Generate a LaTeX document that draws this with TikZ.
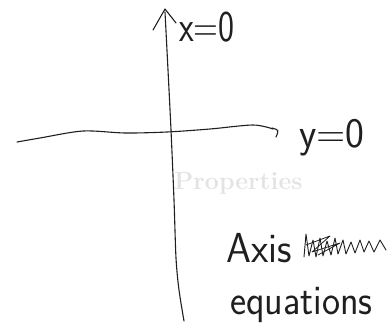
\documentclass[tikz,border=0pt]{standalone}
\usepackage{graphicx}
\begin{document}
\begin{tikzpicture}[x=1pt,y=-1pt,
  ink/.style={draw=black!88,line width=1.1pt,line cap=round,line join=round},
  hand/.style={inner sep=0pt,outer sep=0pt,text=black!88,font=\sffamily\fontsize{40}{40}\selectfont},
  ghost/.style={inner sep=0pt,text=black!11,font=\bfseries\fontsize{25}{25}\selectfont}]
\useasboundingbox (0,0) rectangle (388,325);
\clip (0,0) rectangle (388,325);
% faint bleed-through text
\node[ghost,anchor=base west] (ghost) at (174,189) {Properties};
% vertical axis (x=0)
\draw[ink] plot[smooth] coordinates {(165,12) (168,70) (171,130) (174,200) (176,258) (179,290) (184,321)};
\draw[ink] (153,30) -- (165,9) -- (176,23);
% horizontal axis (y=0)
\draw[ink] plot[smooth] coordinates {(17,142) (40,138) (83,131) (125,133) (167,132) (210,129) (253,125) (273,129)};
\draw[ink] (272,128) .. controls (279,130) .. (276,137);
% labels
\node[hand,anchor=base west] (xlab) at (179,41) {\scalebox{0.85}[1.1]{x=0}};
\node[hand,anchor=base west] (ylab) at (299,147) {\scalebox{1}[1.05]{y=0}};
\node[hand,anchor=base west] (axis) at (226,262) {\scalebox{1}[1.05]{Axis}};
\node[hand,anchor=base west] (eqs) at (230,314) {\scalebox{0.96}[1.05]{equations}};
% crossed-out scribble
\draw[ink,line width=0.9pt] (304,257) -- (306,234) -- (309,256) -- (313,240) -- (316,257) -- (320,238) -- (323,256) -- (327,241) -- (331,255) -- (335,238) -- (338,254) -- (343,240) -- (346,254) -- (351,242) -- (355,253) -- (360,240) -- (364,252) -- (369,241) -- (374,252) -- (380,240) -- (386,250);
\draw[ink,line width=0.8pt] (306,245) -- (330,236) -- (312,252) -- (340,243) -- (318,255);
\end{tikzpicture}
\end{document}
